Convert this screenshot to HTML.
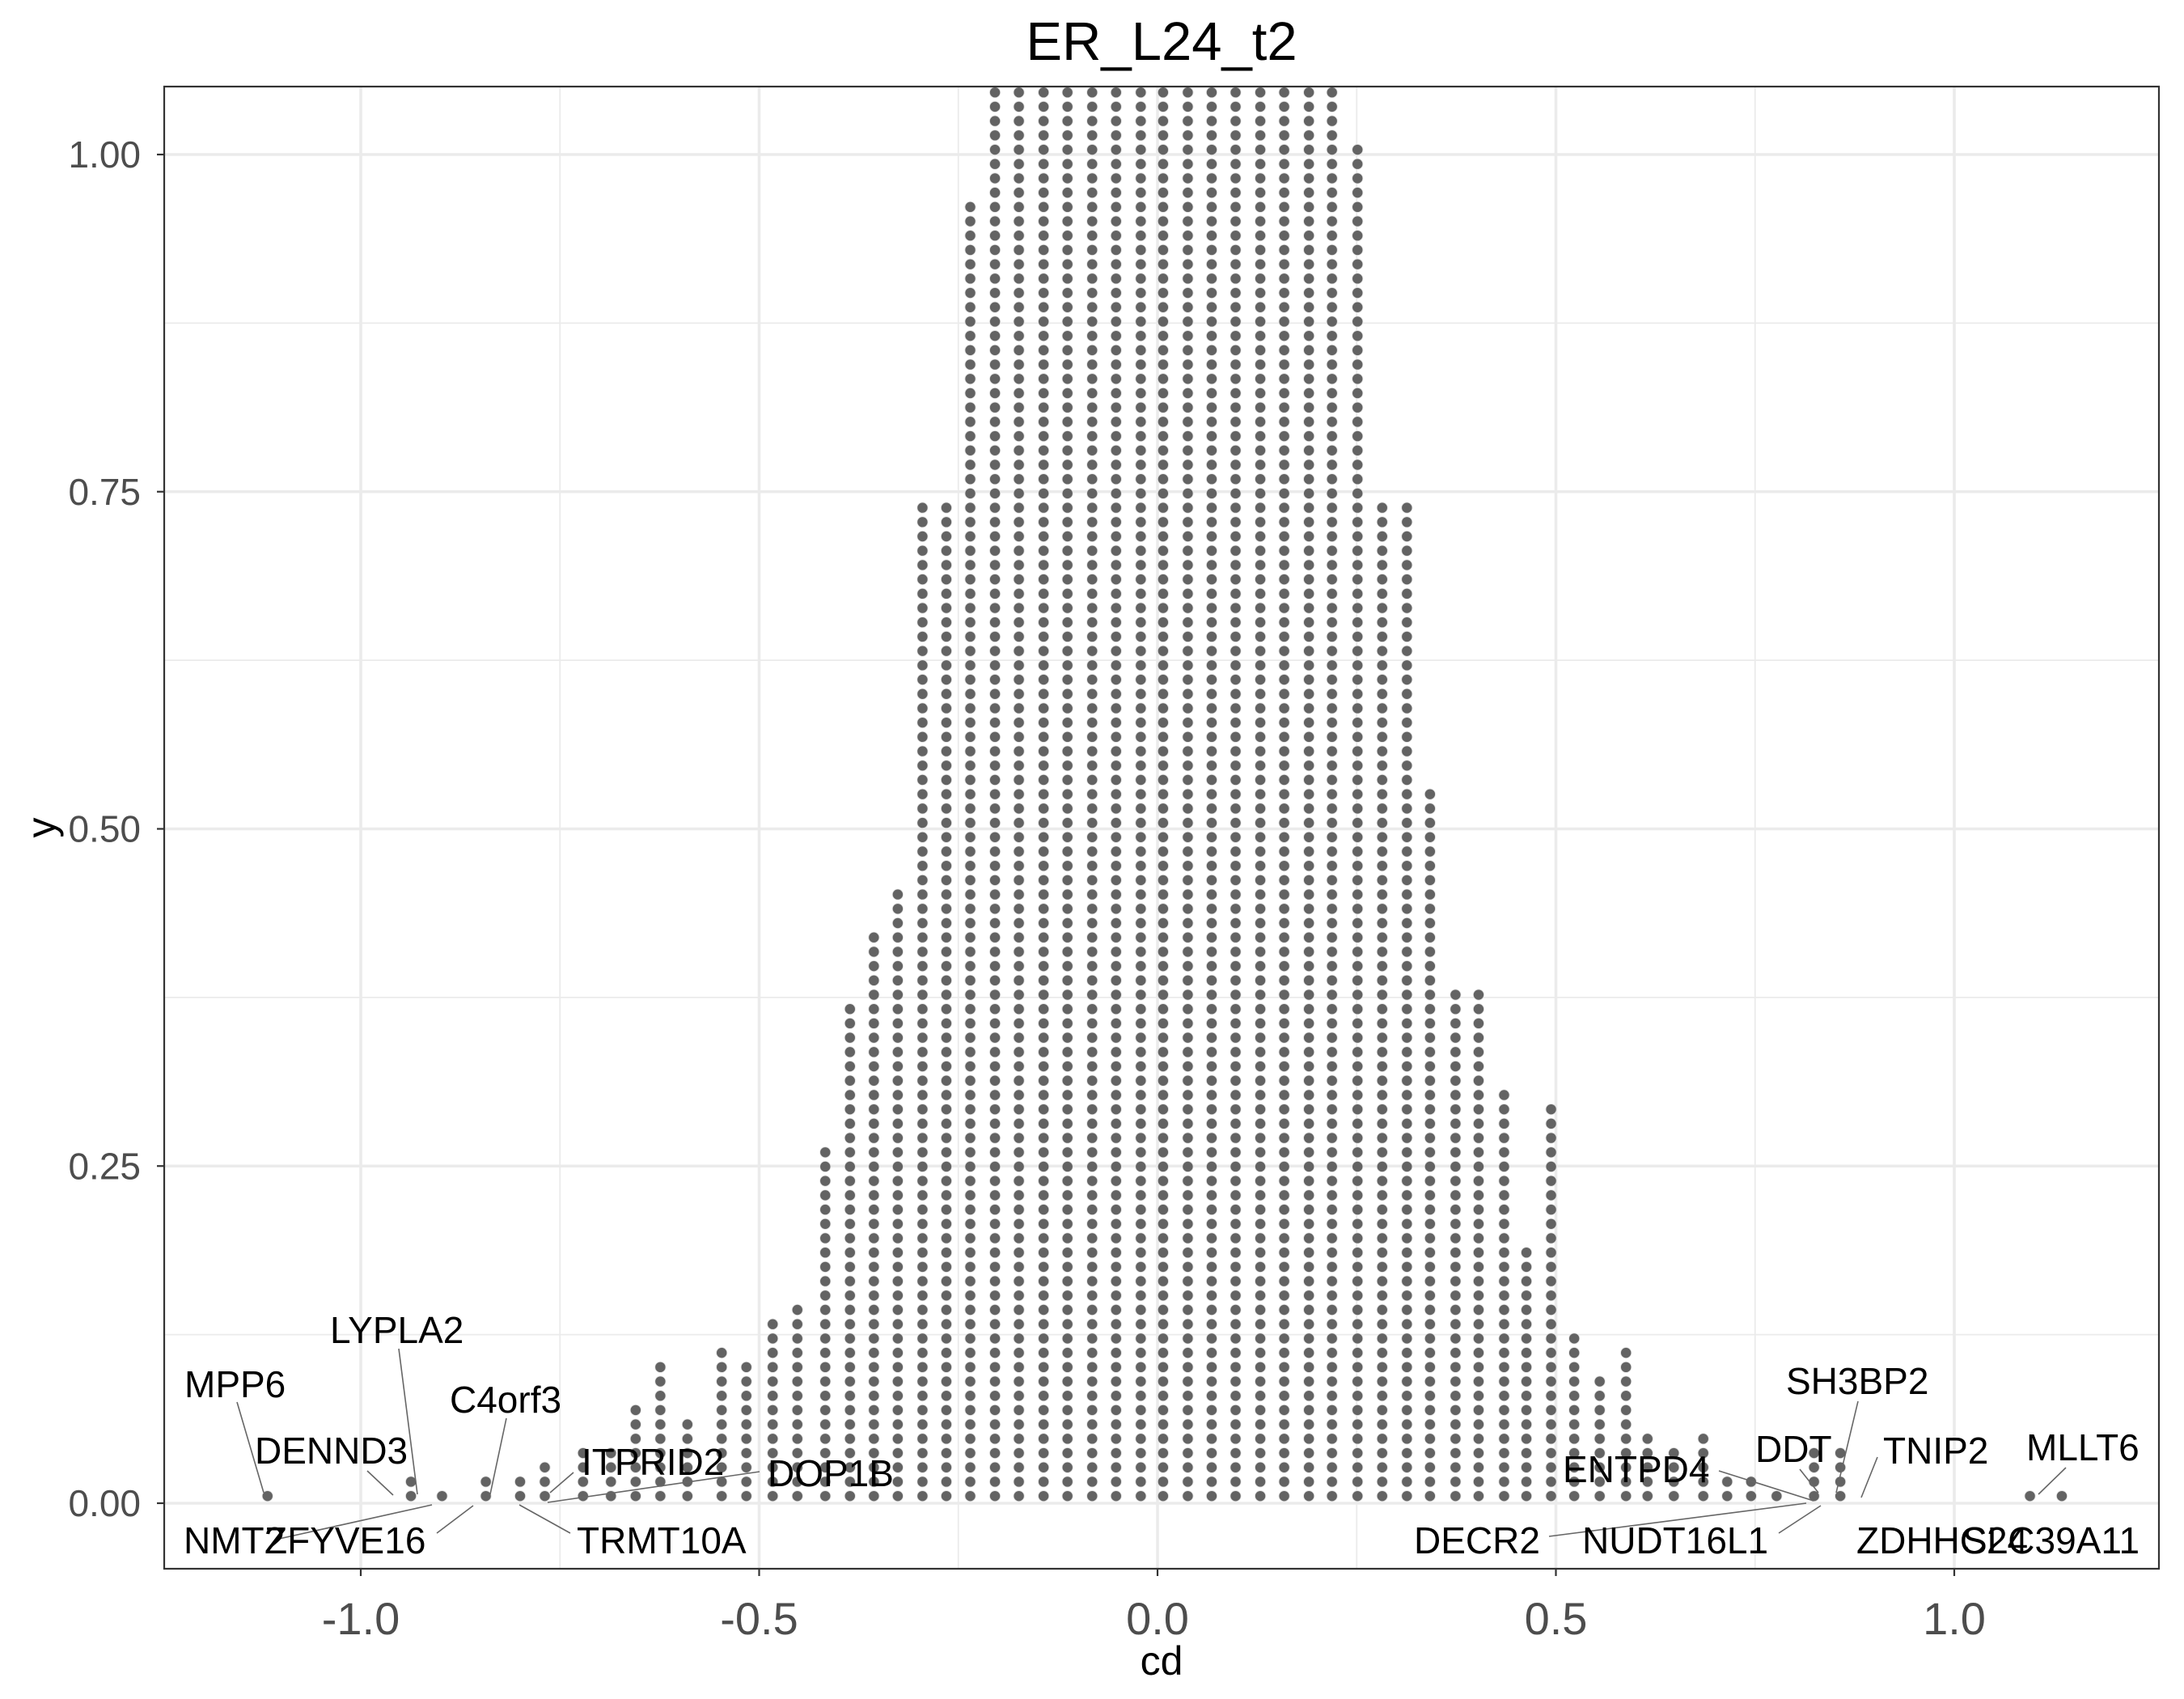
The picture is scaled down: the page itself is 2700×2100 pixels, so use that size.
<!DOCTYPE html>
<html><head><meta charset="utf-8"><style>
html,body{margin:0;padding:0;background:#fff;}
svg{display:block;font-family:"Liberation Sans",Arial,sans-serif;}
</style></head><body>
<svg id="chart" width="2700" height="2100" viewBox="0 0 2700 2100"></svg>
<script>
const colX = [-1.117,-0.937,-0.898,-0.843,-0.800,-0.769,-0.721,-0.686,-0.655,-0.624,-0.590,-0.547,-0.516,-0.483,-0.452,-0.417,-0.386,-0.356,-0.326,-0.295,-0.265,-0.235,-0.204,-0.174,-0.143,-0.113,-0.082,-0.052,-0.021,0.007,0.038,0.068,0.098,0.129,0.159,0.190,0.219,0.251,0.282,0.313,0.342,0.374,0.403,0.435,0.463,0.494,0.523,0.555,0.588,0.615,0.648,0.685,0.715,0.745,0.777,0.824,0.857,1.095,1.135];
const colCount = [1,2,1,2,2,3,4,4,7,10,6,11,10,13,14,25,35,40,43,70,70,91,105,112,118,124,128,130,132,133,132,130,127,122,115,108,101,95,70,70,50,36,36,29,18,28,12,9,11,5,4,5,2,2,1,4,4,1,1];
const xTicks = [-1.0,-0.5,0.0,0.5,1.0];
const xTickLabels = ["-1.0","-0.5","0.0","0.5","1.0"];
const yTicks = [0,0.25,0.5,0.75,1.0];
const yTickLabels = ["0.00","0.25","0.50","0.75","1.00"];
const labelNames = ["MPP6","LYPLA2","DENND3","C4orf3","ITPRID2","DOP1B","NMT2","ZFYVE16","TRMT10A","SH3BP2","DDT","TNIP2","MLLT6","ENTPD4","DECR2","NUDT16L1","ZDHHC24","SLC39A11"];
const dotStep = 0.01062;

const L=203,R=2669,T=107,B=1939;
const X0=1431, XS=985, Y0=1858, YS=1667;
const sx = v => X0 + v*XS;
const sy = v => Y0 - v*YS;
const NS="http://www.w3.org/2000/svg";
const svg=document.getElementById('chart');
function mk(tag,attrs,parent){const e=document.createElementNS(NS,tag);for(const k in attrs)e.setAttribute(k,attrs[k]);(parent||svg).appendChild(e);return e;}

mk('rect',{x:L,y:T,width:R-L,height:B-T,fill:'#fff'});
const grid=mk('g',{});


[-0.75,-0.25,0.25,0.75].forEach(v=>mk('line',{x1:sx(v),x2:sx(v),y1:T,y2:B,stroke:'#ebebeb','stroke-width':1.8},grid));
[0.125,0.375,0.625,0.875].forEach(v=>mk('line',{x1:L,x2:R,y1:sy(v),y2:sy(v),stroke:'#ebebeb','stroke-width':1.8},grid));
xTicks.forEach(v=>mk('line',{x1:sx(v),x2:sx(v),y1:T,y2:B,stroke:'#ebebeb','stroke-width':3.6},grid));
yTicks.forEach(v=>mk('line',{x1:L,x2:R,y1:sy(v),y2:sy(v),stroke:'#ebebeb','stroke-width':3.6},grid));

const clip=mk('clipPath',{id:'pc'});
mk('rect',{x:L,y:T,width:R-L,height:B-T},clip);
const dots=mk('g',{'clip-path':'url(#pc)'});


colX.forEach((x,i)=>{
  for(let k=0;k<colCount[i];k++){
    const c=mk('circle',{cx:sx(x),cy:sy((k+0.5)*dotStep),r:6.6,fill:'#636363',stroke:'#e0e0e0','stroke-width':0.8},dots);
    
    
  }
});

const labelPos = [
 [228,1727,293,1733,326,1845],
 [408,1660,493,1667,516,1847],
 [315,1809,454,1818,486,1848],
 [556,1746,626,1753,606,1847],
 [719,1823,709,1820,680,1845],
 [949,1837,939,1819,677,1857],
 [227,1920,345,1902,534,1860],
 [327,1920,540,1895,585,1861],
 [713,1920,642,1860,705,1895],
 [2208,1723,2297,1732,2270,1845],
 [2170,1807,2225,1816,2248,1845],
 [2328,1809,2321,1801,2301,1851],
 [2505,1805,2554,1814,2520,1847],
 [1932,1832,2125,1818,2242,1855],
 [1748,1920,1915,1899,2233,1858],
 [1956,1920,2199,1895,2251,1861],
 [2295,1920,null],
 [2426,1920,null]
];
const lab=mk('g',{});


labelNames.forEach((n,i)=>{
  const p=labelPos[i];
  if(p[2]!==null){
    const ln=mk('line',{x1:p[2],y1:p[3],x2:p[4],y2:p[5],stroke:'#666','stroke-width':1.6},lab);
    
    
  }
  const t=mk('text',{x:p[0],y:p[1],'font-size':46,fill:'#000'},lab);
  t.textContent=n;
  
  
});

mk('rect',{x:L,y:T,width:R-L,height:B-T,fill:'none',stroke:'#333','stroke-width':2.2});

const xa=mk('g',{});


xTicks.forEach((v,i)=>{
  mk('line',{x1:sx(v),x2:sx(v),y1:B,y2:B+9,stroke:'#333','stroke-width':2.2},xa);
  const t=mk('text',{x:sx(v),y:2020,'text-anchor':'middle','font-size':56,fill:'#4d4d4d'},xa);
  t.textContent=xTickLabels[i];
  
  
});
const ya=mk('g',{});


yTicks.forEach((v,i)=>{
  mk('line',{x1:L-9,x2:L,y1:sy(v),y2:sy(v),stroke:'#333','stroke-width':2.2},ya);
  const t=mk('text',{x:174,y:sy(v)+16,'text-anchor':'end','font-size':46,fill:'#4d4d4d'},ya);
  t.textContent=yTickLabels[i];
  
  
});
const xt=mk('text',{x:1436,y:2070,'text-anchor':'middle','font-size':50,fill:'#000'});
xt.textContent='cd';


const yt=mk('text',{x:0,y:0,'text-anchor':'middle','font-size':50,fill:'#000',transform:'translate(68,1023) rotate(-90)'});
yt.textContent='y';


const tt=mk('text',{x:1436,y:74,'text-anchor':'middle','font-size':67,fill:'#000'});
tt.textContent='ER_L24_t2';


</script>
</body></html>
